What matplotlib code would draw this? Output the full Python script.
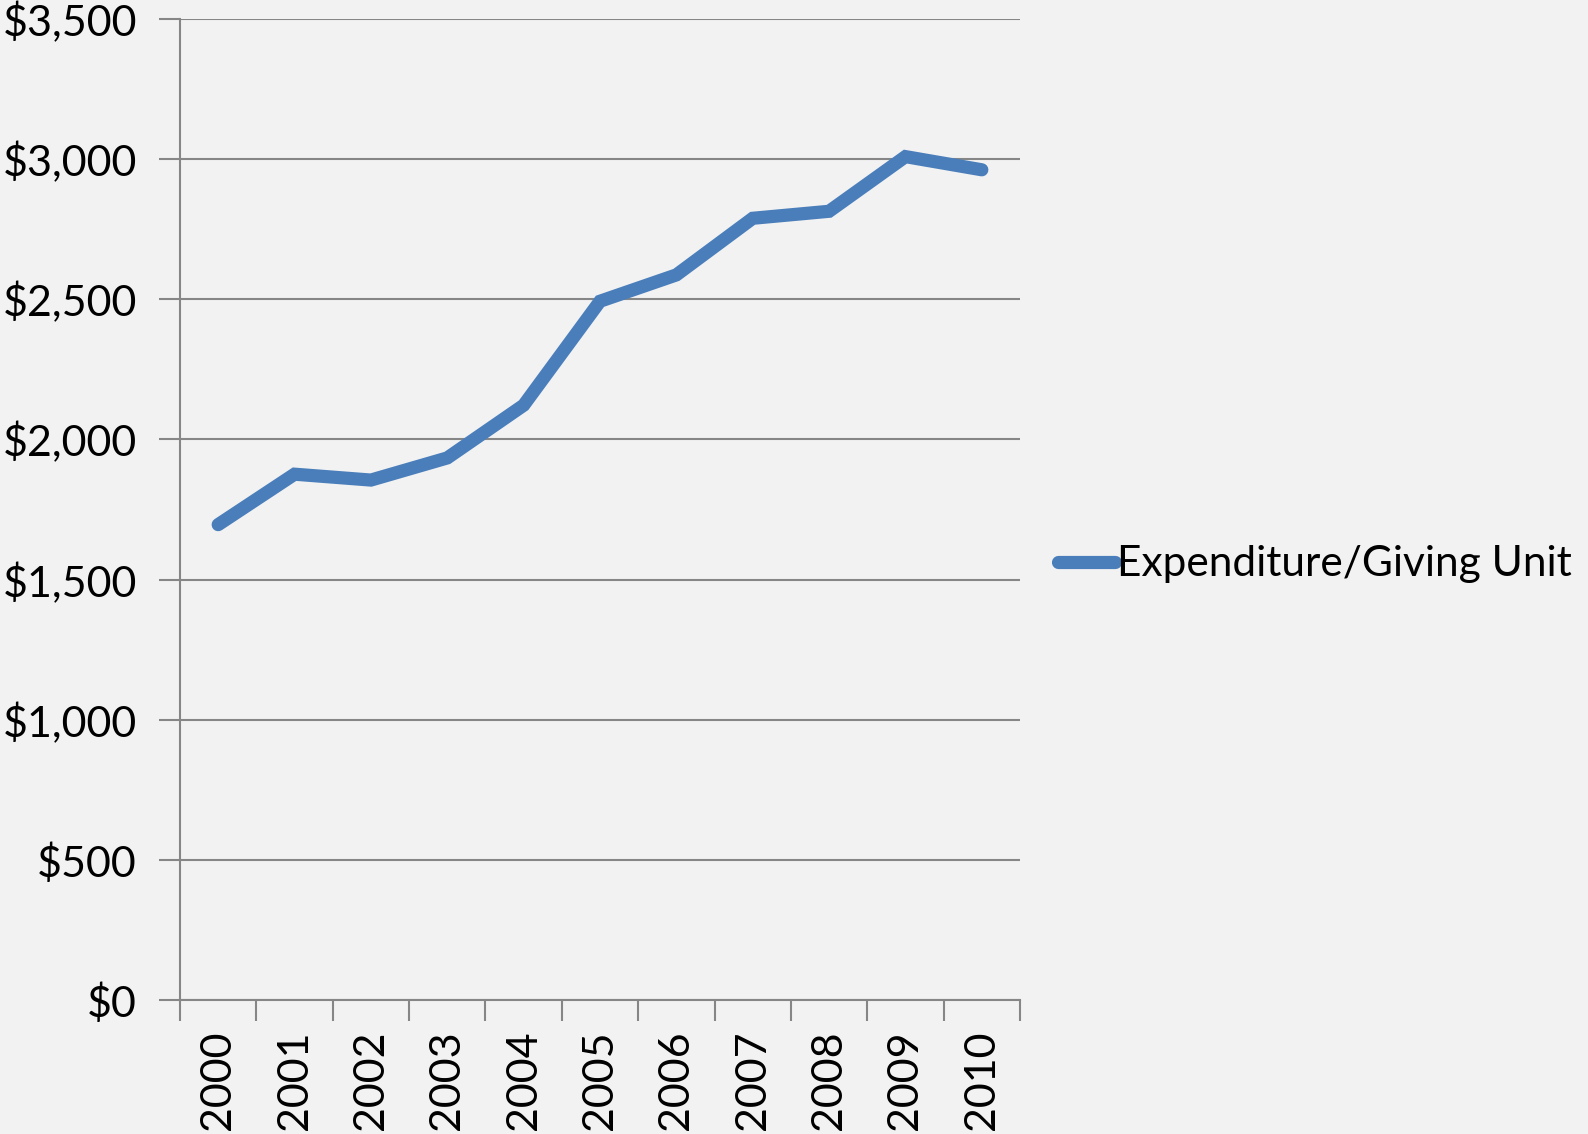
import matplotlib.pyplot as plt
from matplotlib.ticker import FuncFormatter, FixedLocator

years = ['2000', '2001', '2002', '2003', '2004', '2005',
         '2006', '2007', '2008', '2009', '2010']
expenditure = [1696, 1876, 1855, 1934, 2122, 2493, 2587, 2789, 2814, 3009, 2962]
series_name = 'Expenditure/Giving Unit'

bg = '#F2F2F2'
line_color = '#4A7EBB'
grid_color = '#868686'

plt.rcParams['font.family'] = ['Lato', 'DejaVu Sans']

fig = plt.figure(figsize=(15.88, 11.34), dpi=100, facecolor=bg)
ax = fig.add_axes([180 / 1588, 134 / 1134, 840 / 1588, 981 / 1134])
ax.set_facecolor(bg)

x = list(range(len(years)))
ax.plot(x, expenditure, color=line_color, linewidth=9.5,
        solid_capstyle='round', solid_joinstyle='miter', label=series_name, zorder=3)

ax.set_ylim(0, 3500)
ax.set_xlim(-0.5, len(years) - 0.5)
ax.set_yticks(range(0, 3501, 500))
ax.yaxis.set_major_formatter(FuncFormatter(lambda v, p: '${:,.0f}'.format(v)))
ax.grid(axis='y', color=grid_color, linewidth=1.5, zorder=1)

# boundaries get tick marks, centres get the year labels
ax.xaxis.set_major_locator(FixedLocator([i - 0.5 for i in range(len(years) + 1)]))
ax.xaxis.set_minor_locator(FixedLocator(x))
ax.set_xticklabels([''] * (len(years) + 1))
ax.set_xticklabels(years, minor=True, rotation=90)
ax.tick_params(axis='x', which='major', length=15, width=1.5, color=grid_color)
ax.tick_params(axis='x', which='minor', length=0, pad=22, labelsize=31)
ax.tick_params(axis='y', length=15, width=1.5, color=grid_color, pad=16, labelsize=31)

for side in ['top', 'right']:
    ax.spines[side].set_visible(False)
for side in ['left', 'bottom']:
    ax.spines[side].set_color(grid_color)
    ax.spines[side].set_linewidth(1.5)

leg = ax.legend(loc='center left', bbox_to_anchor=(1.025, 0.444), frameon=False,
                fontsize=30.5, handlelength=1.35, handletextpad=0.05,
                borderaxespad=0)

fig.savefig('out.png', dpi=100, facecolor=bg)
